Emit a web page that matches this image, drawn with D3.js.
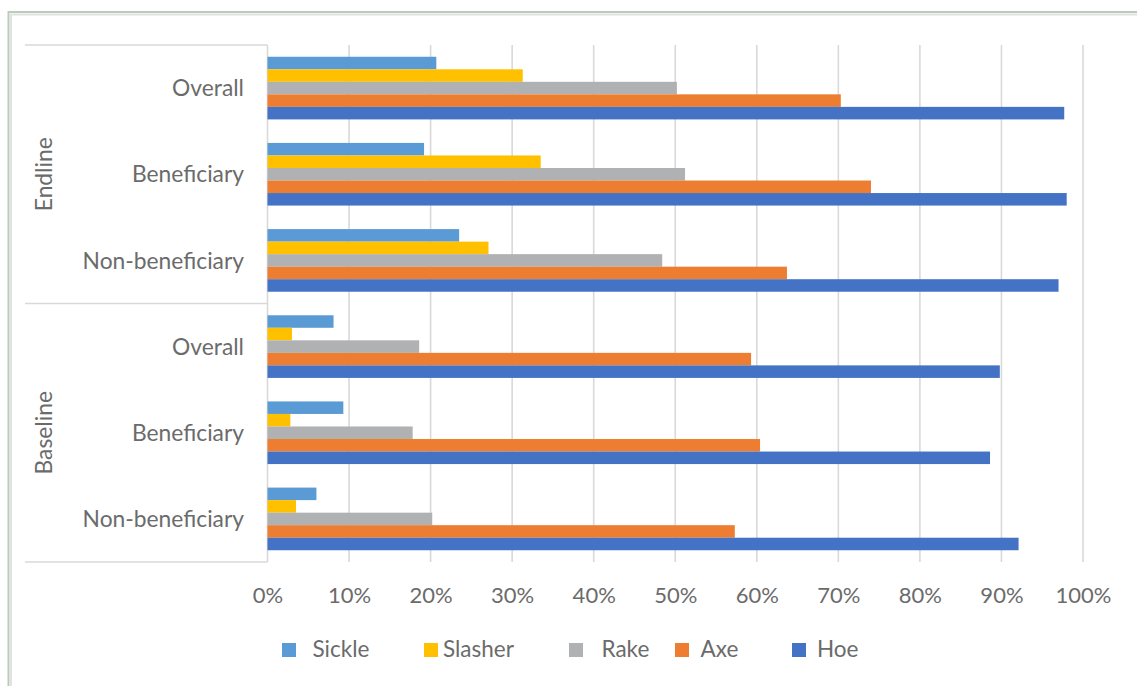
<!DOCTYPE html>
<html>
<head>
<meta charset="utf-8">
<script src="https://cdn.jsdelivr.net/npm/d3@7"></script>
<style>
  html, body { margin: 0; padding: 0; background: #fff; }
  svg { display: block; }
  text { font-family: Lato, "Open Sans", sans-serif; fill: #6b6b6b; }
</style>
</head>
<body>
<svg id="chart" width="1137" height="686"></svg>
<script>
// Survey rounds and respondent groups (top to bottom)
const rounds = ["Endline", "Baseline"];
const groups = ["Overall", "Beneficiary", "Non-beneficiary"];

// Tool series, drawn top to bottom inside each group
const series = ["Sickle", "Slasher", "Rake", "Axe", "Hoe"];
const colors = ["#5b9bd5", "#ffc000", "#b0b1b3", "#ed7d31", "#4472c4"];

// Share of households owning each tool (%), order:
// Endline Overall, Endline Beneficiary, Endline Non-beneficiary,
// Baseline Overall, Baseline Beneficiary, Baseline Non-beneficiary
const sickle  = [20.7, 19.2, 23.5,  8.1,  9.3,  6.0];
const slasher = [31.3, 33.5, 27.1,  3.0,  2.8,  3.5];
const rake    = [50.2, 51.2, 48.4, 18.6, 17.8, 20.2];
const axe     = [70.3, 74.0, 63.7, 59.3, 60.4, 57.3];
const hoe     = [97.7, 98.0, 97.0, 89.8, 88.6, 92.1];

const xTicks = [0, 10, 20, 30, 40, 50, 60, 70, 80, 90, 100];

const values = [sickle, slasher, rake, axe, hoe];
const categories = [];
rounds.forEach(r => groups.forEach(g => categories.push(r + "|" + g)));

const svg = d3.select("#chart");
const grid = "#d9d9d9";

// Outer frame
svg.append("rect").attr("x", 8.5).attr("y", 12).attr("width", 1400).attr("height", 1000)
  .attr("fill", "none").attr("stroke", "#b9cdb9").attr("stroke-width", 2);
svg.append("rect").attr("x", 11).attr("y", 14.5).attr("width", 1400).attr("height", 1000)
  .attr("fill", "none").attr("stroke", "#e2e2e2").attr("stroke-width", 2);

const plot = { left: 267.5, right: 1083, top: 45, bottom: 562 };

const x = d3.scaleLinear().domain([0, 100]).range([plot.left, plot.right]);
const y = d3.scaleBand().domain(categories).range([plot.top, plot.bottom])
  .paddingInner(0.273).paddingOuter(0.1365);
const ySub = d3.scaleBand().domain(series).range([0, y.bandwidth()]);

// Vertical gridlines
svg.append("g").selectAll("line").data(xTicks).join("line")
  .attr("x1", d => x(d)).attr("x2", d => x(d))
  .attr("y1", plot.top).attr("y2", plot.bottom)
  .attr("stroke", grid).attr("stroke-width", 1.6);

// Category axis frame: separators between rounds
const roundEdges = [plot.top, (plot.top + plot.bottom) / 2, plot.bottom];
svg.append("g").selectAll("line").data(roundEdges).join("line")
  .attr("x1", 25).attr("x2", plot.left)
  .attr("y1", d => d).attr("y2", d => d)
  .attr("stroke", grid).attr("stroke-width", 1.6);

// Bars
const barsG = svg.append("g");
series.forEach((s, si) => {
  barsG.append("g").selectAll("rect").data(values[si]).join("rect")
    .attr("x", x(0))
    .attr("y", (d, i) => y(categories[i]) + ySub(s))
    .attr("width", d => x(d) - x(0))
    .attr("height", ySub.bandwidth())
    .attr("fill", colors[si]);
});

// Bottom value axis labels
const xAxis = d3.axisBottom(x).tickValues(xTicks).tickFormat(d => d + "%").tickSize(0).tickPadding(0);
const xg = svg.append("g").attr("transform", `translate(0,${plot.bottom})`).call(xAxis);
xg.select(".domain").remove();
xg.selectAll("text").attr("y", 40.5).attr("dy", 0)
  .style("font-size", "22px").style("font-family", "Lato, 'Open Sans', sans-serif").attr("fill", "#6b6b6b");

// Group labels
svg.append("g").selectAll("text").data(categories).join("text")
  .attr("x", 244)
  .attr("y", d => y(d) + y.bandwidth() / 2)
  .attr("dy", "0.36em")
  .attr("text-anchor", "end")
  .style("font-size", "22.8px")
  .text(d => d.split("|")[1]);

// Round labels (rotated)
const half = (plot.bottom - plot.top) / 2;
svg.append("g").selectAll("text").data(rounds).join("text")
  .attr("transform", (d, i) => `translate(43.5,${plot.top + half * i + half / 2}) rotate(-90)`)
  .attr("dy", "0.36em")
  .attr("text-anchor", "middle")
  .style("font-size", "22.8px")
  .text(d => d);

// Legend
const legendMarkX = [282, 424, 569, 675, 792];
const legendTextX = [312.5, 443, 601.5, 700.5, 817];
const legend = svg.append("g");
series.forEach((s, i) => {
  legend.append("rect").attr("x", legendMarkX[i]).attr("y", 643).attr("width", 14).attr("height", 14)
    .attr("fill", colors[i]);
  legend.append("text").attr("x", legendTextX[i]).attr("y", 649).attr("dy", "0.36em")
    .style("font-size", "22.5px").text(s);
});
</script>
</body>
</html>
